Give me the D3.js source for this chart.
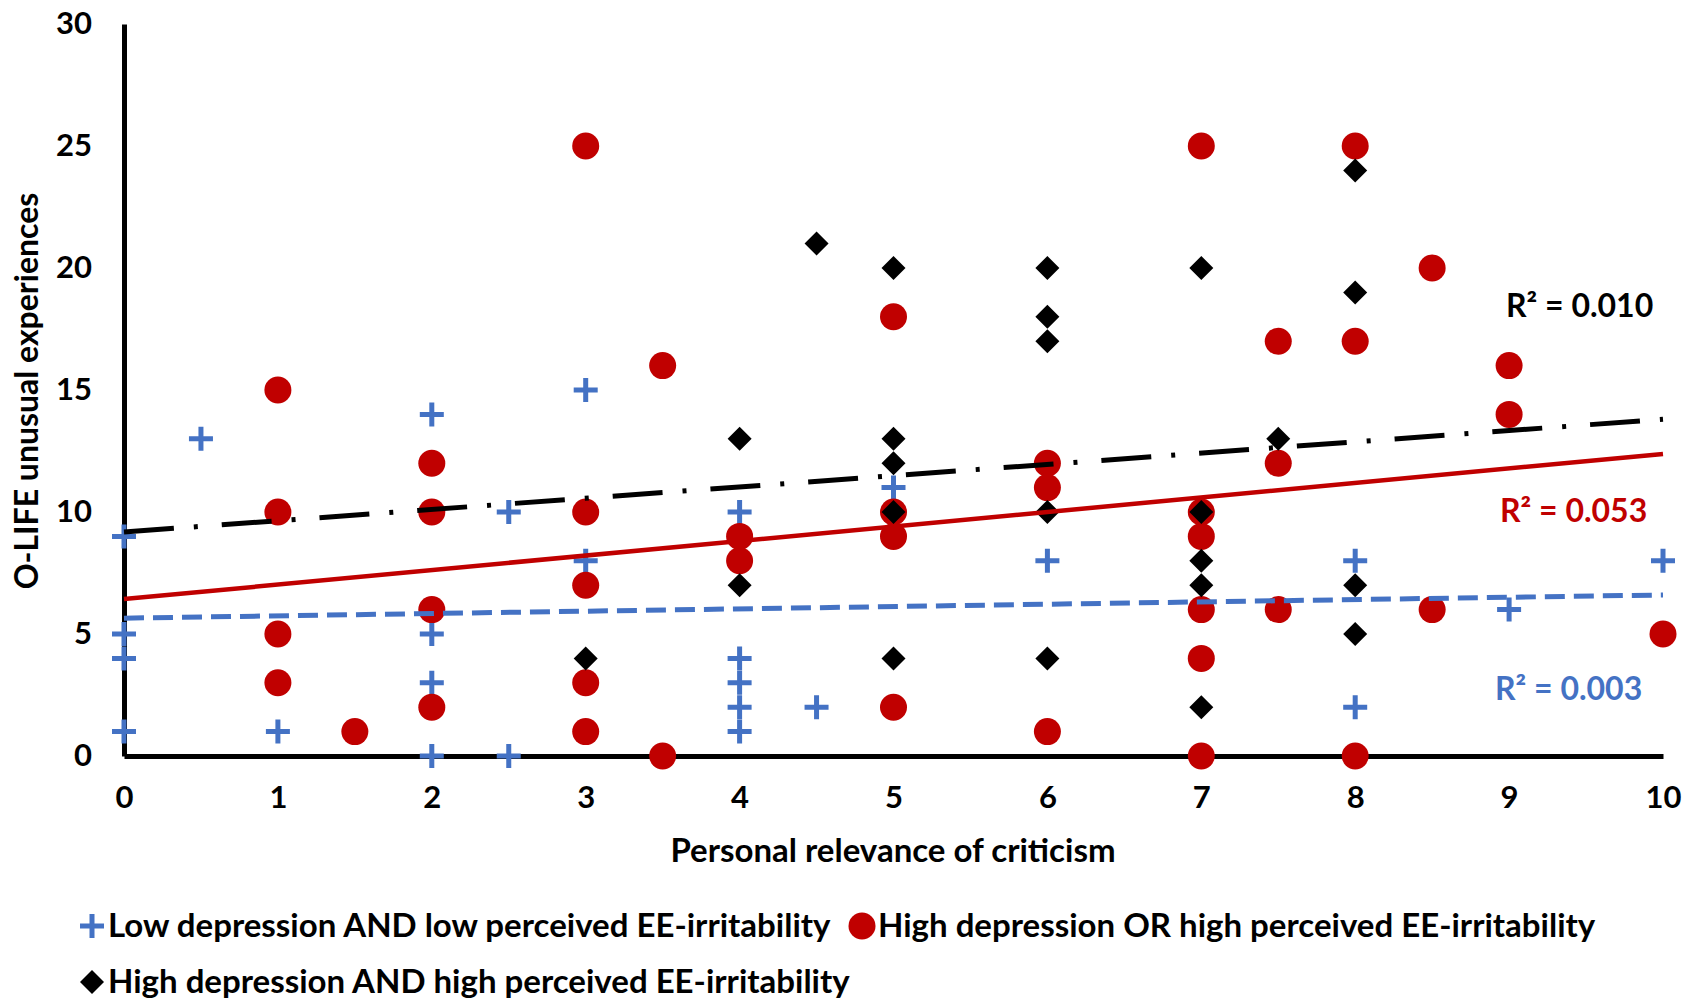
<!DOCTYPE html>
<html>
<head>
<meta charset="utf-8">
<script src="https://cdn.jsdelivr.net/npm/d3@7"></script>
<style>
  body { margin: 0; background: #fff; }
  text { font-family: Lato, 'Open Sans', sans-serif; font-weight: bold; fill: #000; }
</style>
</head>
<body>
<script>
// series: Low depression AND low perceived EE-irritability
const lowX = [0, 0, 0, 0, 0.5, 1, 2, 2, 2, 2, 2.5, 2.5, 3, 3, 4, 4, 4, 4, 4, 4.5, 5, 6, 8, 8, 9, 10];
const lowY = [9, 5, 4, 1, 13, 1, 14, 5, 3, 0, 10, 0, 15, 8, 10, 4, 3, 2, 1, 2, 11, 8, 8, 2, 6, 8];

// series: High depression OR high perceived EE-irritability
const midX = [1, 1, 1, 1, 1.5, 2, 2, 2, 2, 3, 3, 3, 3, 3, 3.5, 3.5, 4, 4, 5, 5, 5, 5,
  6, 6, 6, 7, 7, 7, 7, 7, 7, 7.5, 7.5, 7.5, 8, 8, 8, 8.5, 8.5, 9, 9, 10];
const midY = [15, 10, 5, 3, 1, 12, 10, 6, 2, 25, 10, 7, 3, 1, 16, 0, 9, 8, 18, 10, 9, 2,
  12, 11, 1, 25, 10, 9, 6, 4, 0, 17, 12, 6, 25, 17, 0, 20, 6, 16, 14, 5];

// series: High depression AND high perceived EE-irritability
const highX = [3, 4, 4, 4.5, 5, 5, 5, 5, 5, 6, 6, 6, 6, 6, 7, 7, 7, 7, 7, 7.5, 8, 8, 8, 8];
const highY = [4, 13, 7, 21, 20, 13, 12, 10, 4, 20, 18, 17, 10, 4, 20, 10, 8, 7, 2, 13, 24, 19, 7, 5];

// trend line values at x = 0 and x = 10, and R² labels
const lowTrend = [5.65, 6.6];
const midTrend = [6.43, 12.38];
const highTrend = [9.18, 13.8];
const r2Labels = ['R² = 0.003', 'R² = 0.053', 'R² = 0.010'];

const xTicks = [0, 1, 2, 3, 4, 5, 6, 7, 8, 9, 10];
const yTicks = [0, 5, 10, 15, 20, 25, 30];

const legendNames = [
  'Low depression AND low perceived EE-irritability',
  'High depression OR high perceived EE-irritability',
  'High depression AND high perceived EE-irritability'
];

const blue = '#4472C4', red = '#C00000', black = '#000000';

const width = 1694, height = 1000;
const svg = d3.select('body').append('svg')
  .attr('width', width)
  .attr('height', height);

const x = d3.scaleLinear().domain([0, 10]).range([124, 1663]);
const y = d3.scaleLinear().domain([0, 30]).range([756, 24]);

// axes
const xAxis = svg.append('g')
  .attr('transform', 'translate(0,' + y(0) + ')')
  .call(d3.axisBottom(x).tickValues(xTicks).tickSize(0).tickPadding(30));
const yAxis = svg.append('g')
  .attr('transform', 'translate(' + x(0) + ',0)')
  .call(d3.axisLeft(y).tickValues(yTicks).tickSize(0).tickPadding(32));

[xAxis, yAxis].forEach(a => {
  a.select('.domain').attr('stroke', '#000').attr('stroke-width', 5);
  a.selectAll('text').style('font-size', '31px').style('font-family', 'Lato, sans-serif').style('font-weight', 'bold');
});

// marker shapes
function plus(g, cx, cy, color) {
  g.append('path')
    .attr('d', 'M' + (cx - 12) + ',' + cy + 'H' + (cx + 12) + 'M' + cx + ',' + (cy - 12) + 'V' + (cy + 12))
    .attr('stroke', color).attr('stroke-width', 5).attr('fill', 'none');
}
function dot(g, cx, cy, color) {
  g.append('circle').attr('cx', cx).attr('cy', cy).attr('r', 13.5).attr('fill', color);
}
function diamond(g, cx, cy, color) {
  g.append('path')
    .attr('d', 'M' + cx + ',' + (cy - 12) + 'L' + (cx + 12) + ',' + cy + 'L' + cx + ',' + (cy + 12) + 'L' + (cx - 12) + ',' + cy + 'Z')
    .attr('fill', color);
}

const pts = svg.append('g');
lowX.forEach((v, i) => plus(pts, x(v), y(lowY[i]), blue));
midX.forEach((v, i) => dot(pts, x(v), y(midY[i]), red));
highX.forEach((v, i) => diamond(pts, x(v), y(highY[i]), black));

// trend lines
const trends = [
  { vals: lowTrend, color: blue, dash: '20,9', w: 5 },
  { vals: midTrend, color: red, dash: null, w: 4.5 },
  { vals: highTrend, color: black, dash: '50,20,4,24', w: 5 }
];
trends.forEach(t => {
  svg.append('line')
    .attr('x1', x(0)).attr('y1', y(t.vals[0]))
    .attr('x2', x(10)).attr('y2', y(t.vals[1]))
    .attr('stroke', t.color)
    .attr('stroke-width', t.w)
    .attr('stroke-dasharray', t.dash);
});

// R² labels
const r2Pos = [[1495, 700, blue], [1500, 522, red], [1506, 317, black]];
r2Labels.forEach((s, i) => {
  svg.append('text')
    .attr('x', r2Pos[i][0]).attr('y', r2Pos[i][1])
    .style('font-size', '32px')
    .style('fill', r2Pos[i][2])
    .text(s);
});

// axis titles
svg.append('text')
  .attr('x', 893).attr('y', 862)
  .attr('text-anchor', 'middle')
  .style('font-size', '33px')
  .text('Personal relevance of criticism');
svg.append('text')
  .attr('transform', 'translate(38,391) rotate(-90)')
  .attr('text-anchor', 'middle')
  .style('font-size', '32px')
  .text('O-LIFE unusual experiences');

// legend
const leg = svg.append('g');
plus(leg, 92, 926, blue);
dot(leg, 862, 926, red);
diamond(leg, 92, 982, black);
const legPos = [[108, 937], [878, 937], [108, 993]];
legendNames.forEach((s, i) => {
  leg.append('text')
    .attr('x', legPos[i][0]).attr('y', legPos[i][1])
    .style('font-size', '33px')
    .text(s);
});
</script>
</body>
</html>
